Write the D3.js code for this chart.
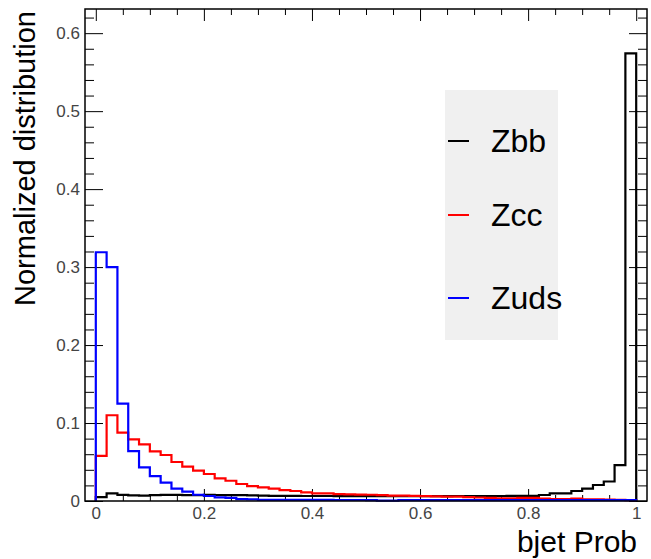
<!DOCTYPE html>
<html>
<head>
<meta charset="utf-8">
<script src="https://cdn.jsdelivr.net/npm/d3@7"></script>
<style>
  body { margin: 0; background: #fff; }
  svg text { font-family: "Liberation Sans", Arial, sans-serif; }
</style>
</head>
<body>
<div id="chart"></div>
<script>
// 50 bins of width 0.02 from 0 to 1
const binCount = 50;
const binLo = 0, binHi = 1;

// Zbb (black)
const zbb = [0.0050, 0.0098, 0.0078, 0.0072, 0.0070, 0.0075, 0.0078, 0.0078, 0.0075, 0.0075,
             0.0078, 0.0077, 0.0076, 0.0076, 0.0072, 0.0068, 0.0066, 0.0065, 0.0065, 0.0064,
             0.0064, 0.0064, 0.0063, 0.0063, 0.0063, 0.0062, 0.0062, 0.0062, 0.0062, 0.0063,
             0.0063, 0.0063, 0.0063, 0.0064, 0.0064, 0.0064, 0.0064, 0.0064, 0.0065, 0.0065,
             0.0066, 0.0077, 0.0098, 0.0098, 0.0128, 0.0160, 0.0205, 0.0250, 0.0460, 0.5740];
// Zcc (red)
const zcc = [0.0580, 0.1100, 0.0876, 0.0790, 0.0727, 0.0637, 0.0590, 0.0500, 0.0440, 0.0390,
             0.0346, 0.0290, 0.0260, 0.0218, 0.0190, 0.0175, 0.0160, 0.0140, 0.0128, 0.0110,
             0.0099, 0.0099, 0.0088, 0.0086, 0.0082, 0.0080, 0.0075, 0.0070, 0.0068, 0.0065,
             0.0062, 0.0060, 0.0056, 0.0055, 0.0050, 0.0045, 0.0040, 0.0035, 0.0035, 0.0040,
             0.0040, 0.0030, 0.0025, 0.0025, 0.0030, 0.0020, 0.0020, 0.0018, 0.0015, 0.0012];
// Zuds (blue)
const zuds = [0.3190, 0.3000, 0.1250, 0.0640, 0.0430, 0.0320, 0.0235, 0.0160, 0.0120, 0.0080,
              0.0064, 0.0047, 0.0040, 0.0025, 0.0020, 0.0015, 0.0015, 0.0015, 0.0014, 0.0014,
              0.0014, 0.0014, 0.0013, 0.0013, 0.0013, 0.0012, 0.0004, 0.0004, 0.0012, 0.0012,
              0.0012, 0.0012, 0.0011, 0.0011, 0.0011, 0.0011, 0.0011, 0.0010, 0.0010, 0.0010,
              0.0010, 0.0010, 0.0010, 0.0010, 0.0010, 0.0010, 0.0010, 0.0010, 0.0010, 0.0010];

const seriesNames = ["Zbb", "Zcc", "Zuds"];
const seriesColors = ["#000000", "#ff0000", "#0000ff"];

const xTicks = [0, 0.2, 0.4, 0.6, 0.8, 1];
const xTickLabels = ["0", "0.2", "0.4", "0.6", "0.8", "1"];
const yTicks = [0, 0.1, 0.2, 0.3, 0.4, 0.5, 0.6];
const yTickLabels = ["0", "0.1", "0.2", "0.3", "0.4", "0.5", "0.6"];

const xTitle = "bjet Prob";
const yTitle = "Normalized distribution";

const w = 651, h = 559;
const frame = {left: 85, right: 647, top: 9, bottom: 501};

const xScale = d3.scaleLinear().domain([-0.02, 1.02]).range([frame.left, frame.right]);
const yScale = d3.scaleLinear().domain([0, 0.631]).range([frame.bottom, frame.top]);

const svg = d3.select("#chart").append("svg")
  .attr("width", w)
  .attr("height", h);

// minor tick positions
const xMinor = d3.range(-0.0, 1.0001, 0.05).filter(v => !xTicks.some(t => Math.abs(t - v) < 1e-6));
const yMinor = d3.range(0, 0.6201, 0.02).filter(v => !yTicks.some(t => Math.abs(t - v) < 1e-6));

function styleAxis(g) {
  g.select(".domain").remove();
  g.selectAll(".tick line").attr("stroke", "#000").attr("stroke-width", 1);
  g.selectAll(".tick text")
    .attr("fill", "#444")
    .style("font-size", "17px");
}

// bottom axis (with labels)
svg.append("g")
  .attr("transform", `translate(0,${frame.bottom})`)
  .call(d3.axisBottom(xScale).tickValues(xTicks)
    .tickFormat((d, i) => xTickLabels[i])
    .tickSizeInner(-12).tickSizeOuter(0).tickPadding(6))
  .call(styleAxis);
svg.append("g")
  .attr("transform", `translate(0,${frame.bottom})`)
  .call(d3.axisBottom(xScale).tickValues(xMinor).tickFormat("")
    .tickSizeInner(-6).tickSizeOuter(0))
  .call(styleAxis);

// top axis (ticks only)
svg.append("g")
  .attr("transform", `translate(0,${frame.top})`)
  .call(d3.axisTop(xScale).tickValues(xTicks).tickFormat("")
    .tickSizeInner(-12).tickSizeOuter(0))
  .call(styleAxis);
svg.append("g")
  .attr("transform", `translate(0,${frame.top})`)
  .call(d3.axisTop(xScale).tickValues(xMinor).tickFormat("")
    .tickSizeInner(-6).tickSizeOuter(0))
  .call(styleAxis);

// left axis (with labels)
svg.append("g")
  .attr("transform", `translate(${frame.left},0)`)
  .call(d3.axisLeft(yScale).tickValues(yTicks)
    .tickFormat((d, i) => yTickLabels[i])
    .tickSizeInner(-18).tickSizeOuter(0).tickPadding(5))
  .call(styleAxis);
svg.append("g")
  .attr("transform", `translate(${frame.left},0)`)
  .call(d3.axisLeft(yScale).tickValues(yMinor).tickFormat("")
    .tickSizeInner(-9).tickSizeOuter(0))
  .call(styleAxis);

// right axis (ticks only)
svg.append("g")
  .attr("transform", `translate(${frame.right},0)`)
  .call(d3.axisRight(yScale).tickValues(yTicks).tickFormat("")
    .tickSizeInner(-18).tickSizeOuter(0))
  .call(styleAxis);
svg.append("g")
  .attr("transform", `translate(${frame.right},0)`)
  .call(d3.axisRight(yScale).tickValues(yMinor).tickFormat("")
    .tickSizeInner(-9).tickSizeOuter(0))
  .call(styleAxis);

// legend box
const legend = svg.append("g");
legend.append("rect")
  .attr("x", 445).attr("y", 90)
  .attr("width", 113).attr("height", 250)
  .attr("fill", "#f0f0f0");

const legendY = [141, 215, 298];
seriesNames.forEach((name, i) => {
  legend.append("line")
    .attr("x1", 448).attr("x2", 469)
    .attr("y1", legendY[i]).attr("y2", legendY[i])
    .attr("stroke", seriesColors[i])
    .attr("stroke-width", 2);
  legend.append("text")
    .attr("x", 491).attr("y", legendY[i] + 11)
    .style("font-size", "32px")
    .attr("fill", "#000")
    .text(name);
});

// histograms as step outlines
const binW = (binHi - binLo) / binCount;
function histPoints(vals) {
  const pts = [[binLo, 0]];
  vals.forEach((v, i) => {
    pts.push([binLo + i * binW, v]);
    pts.push([binLo + (i + 1) * binW, v]);
  });
  pts.push([binHi, 0]);
  return pts;
}
const line = d3.line()
  .x(d => xScale(d[0]))
  .y(d => yScale(d[1]));

[zbb, zcc, zuds].forEach((vals, i) => {
  svg.append("path")
    .attr("d", line(histPoints(vals)))
    .attr("fill", "none")
    .attr("stroke", seriesColors[i])
    .attr("stroke-width", 2.2)
    .attr("stroke-linejoin", "miter");
});

// frame
svg.append("rect")
  .attr("x", frame.left).attr("y", frame.top)
  .attr("width", frame.right - frame.left)
  .attr("height", frame.bottom - frame.top)
  .attr("fill", "none")
  .attr("stroke", "#000")
  .attr("stroke-width", 1.5);

// axis titles
svg.append("text")
  .attr("x", 637).attr("y", 552)
  .attr("text-anchor", "end")
  .style("font-size", "30px")
  .attr("fill", "#000")
  .text(xTitle);

svg.append("text")
  .attr("transform", "translate(35,11) rotate(-90)")
  .attr("text-anchor", "end")
  .style("font-size", "29px")
  .attr("fill", "#000")
  .text(yTitle);
</script>
</body>
</html>
